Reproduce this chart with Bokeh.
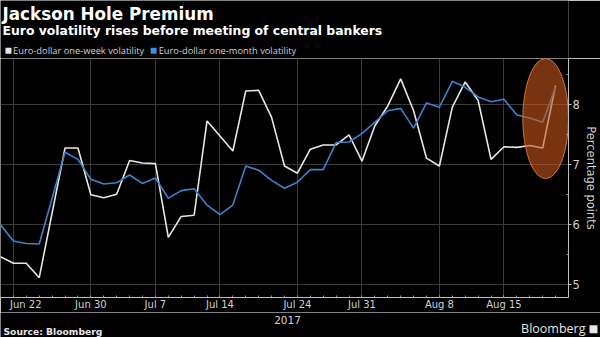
import numpy as np
from bokeh.plotting import figure
from bokeh.layouts import column
from bokeh.models import FixedTicker, Label, Range1d
from bokeh.embed import file_html
from bokeh.resources import INLINE

# ---- data ----
dates = ["2017-06-21", "2017-06-22", "2017-06-23", "2017-06-26", "2017-06-28",
         "2017-06-29", "2017-06-30", "2017-07-03", "2017-07-04", "2017-07-05",
         "2017-07-06", "2017-07-07", "2017-07-10", "2017-07-11", "2017-07-12",
         "2017-07-13", "2017-07-14", "2017-07-17", "2017-07-18", "2017-07-19",
         "2017-07-20", "2017-07-21", "2017-07-24", "2017-07-25", "2017-07-26",
         "2017-07-27", "2017-07-28", "2017-07-31", "2017-08-01", "2017-08-02",
         "2017-08-03", "2017-08-04", "2017-08-07", "2017-08-08", "2017-08-09",
         "2017-08-10", "2017-08-11", "2017-08-14", "2017-08-15", "2017-08-16",
         "2017-08-17", "2017-08-18", "2017-08-21"]
one_week = [5.47, 5.36, 5.36, 5.12, 7.28, 7.28, 6.50, 6.45, 6.51, 7.07,
            7.03, 7.02, 5.79, 6.14, 6.16, 7.73, 7.48, 7.23, 8.23, 8.24,
            7.79, 6.98, 6.86, 7.26, 7.33, 7.33, 7.50, 7.06, 7.65, 7.98,
            8.43, 7.90, 7.11, 6.98, 7.96, 8.38, 8.07, 7.09, 7.30, 7.29,
            7.32, 7.28, 8.32]
one_month = [6.00, 5.73, 5.69, 5.68, 7.21, 7.09, 6.76, 6.68, 6.70, 6.83,
             6.69, 6.78, 6.44, 6.57, 6.60, 6.33, 6.17, 6.33, 6.98, 6.91,
             6.74, 6.61, 6.71, 6.92, 6.92, 7.37, 7.38, 7.52, 7.71, 7.90,
             7.94, 7.61, 8.03, 7.96, 8.39, 8.29, 8.13, 8.05, 8.09, 7.83,
             7.78, 7.71, 8.30]
tick_dates = ["2017-06-22", "2017-06-30", "2017-07-07", "2017-07-14",
              "2017-07-24", "2017-07-31", "2017-08-08", "2017-08-15"]
tick_labels = ["Jun 22", "Jun 30", "Jul 7", "Jul 14", "Jul 24", "Jul 31",
               "Aug 8", "Aug 15"]
year_label = "2017"
y_ticks = [5, 6, 7, 8]
series_names = ["Euro-dollar one-week volatility",
                "Euro-dollar one-month volatility"]

WHITE = "#e6e6e6"
BLUE = "#3d82cc"
GREY = "#d0d0d0"
OPEN = "Open Sans"
DEJA = "DejaVu Sans"

# ---- business-day scale ----
d = np.array(dates, dtype="datetime64[D]")
start = d[0]
x = np.busday_count(start, d)
tx = [int(t) for t in np.busday_count(start, np.array(tick_dates, dtype="datetime64[D]"))]
all_days = list(range(0, int(x[-1]) + 1))

FRAME_W = 572  # header frame is aligned to the chart's frame


def blank(height, y0, y1, w):
    f = figure(width=600, height=height, x_range=Range1d(0, w),
               y_range=Range1d(y0, y1), output_backend="svg",
               toolbar_location=None, x_axis_type=None, y_axis_type=None,
               min_border=0, background_fill_color="black",
               border_fill_color="black", outline_line_color=None)
    f.xgrid.visible = False
    f.ygrid.visible = False
    return f


def lab(text, cx, base, size, color=GREY, bold=False, align="left", font=OPEN):
    # small correction so the drawn baseline lands on `base`
    k = 0.36 if font == OPEN else 0.30
    return Label(x=cx, y=base - k * size, text=text, text_font=font,
                 text_font_size=f"{size}px", text_color=color,
                 text_font_style="bold" if bold else "normal",
                 text_align=align, text_baseline="alphabetic")


# ---- header ----
head = blank(58, 58, 0, FRAME_W)
head.add_layout(lab("Jackson Hole Premium", 2, 18.5, 16.8, color="white",
                    bold=True, font=DEJA))
head.add_layout(lab("Euro volatility rises before meeting of central bankers",
                    2, 33.5, 12.4, color="white", bold=True, font=DEJA))
head.rect(x=[8, 154.2], y=[50.3, 50.3], width=6, height=6,
          fill_color=[WHITE, "#3a8ee6"], line_color=None)
head.add_layout(lab(series_names[0], 12.7, 53.6, 9.3))
head.add_layout(lab(series_names[1], 159.3, 53.6, 9.3))

# ---- main chart ----
p = figure(width=600, height=254, x_range=Range1d(0, 44),
           y_range=Range1d(4.79, 8.77), output_backend="svg",
           toolbar_location=None, y_axis_location="right",
           min_border_left=0, min_border_right=28, min_border_top=0,
           min_border_bottom=15, background_fill_color="black",
           border_fill_color="black", outline_line_color=None)

p.xgrid.ticker = FixedTicker(ticks=tx)
p.ygrid.ticker = FixedTicker(ticks=y_ticks)
for g in (p.xgrid, p.ygrid):
    g.grid_line_color = "#3a3a3a"
    g.grid_line_width = 1

xa = p.xaxis[0]
xa.ticker = FixedTicker(ticks=tx, minor_ticks=all_days)
overrides = {t: l for t, l in zip(tx, tick_labels)}
overrides[tx[0]] = "\u00a0" * 3 + tick_labels[0]
xa.major_label_overrides = overrides
xa.major_label_text_font = DEJA
xa.major_label_text_font_size = "10px"
xa.major_label_text_color = GREY
xa.major_label_standoff = 1
xa.axis_line_color = "#bdbdbd"
xa.major_tick_line_color = "#9a9a9a"
xa.minor_tick_line_color = "#9a9a9a"
xa.major_tick_out = 0
xa.major_tick_in = 2
xa.minor_tick_out = 0
xa.minor_tick_in = 2

ya = p.yaxis[0]
ya.ticker = FixedTicker(ticks=y_ticks, minor_ticks=[4.5, 5.5, 6.5, 7.5, 8.5])
ya.major_label_text_font = DEJA
ya.major_label_text_font_size = "11.5px"
ya.major_label_text_color = GREY
ya.major_label_standoff = 1
ya.axis_line_color = "#bdbdbd"
ya.major_tick_line_color = "#bdbdbd"
ya.minor_tick_line_color = "#9a9a9a"
ya.major_tick_out = 3
ya.major_tick_in = 0
ya.minor_tick_out = 0
ya.minor_tick_in = 2
ya.axis_label = "Percentage points"
ya.axis_label_text_font = DEJA
ya.axis_label_text_font_style = "normal"
ya.axis_label_text_font_size = "11.5px"
ya.axis_label_text_color = GREY
ya.axis_label_standoff = 1

p.line(x, one_week, line_color=WHITE, line_width=1.6)
p.line(x, one_month, line_color=BLUE, line_width=1.6)

# highlight ellipse around the last days
p.ellipse(x=[42.23], y=[7.77], width=3.54, height=2.0,
          fill_color="#c8561a", fill_alpha=0.6,
          line_color="#e27a36", line_alpha=0.9, line_width=1)

# ---- footer (outside the aligned column, full 600 px frame) ----
foot = blank(25, 337, 312, 600)
foot.add_layout(lab(year_label, 287, 323, 10.5, align="center", font=DEJA))
foot.add_layout(lab("Source: Bloomberg", 3, 334, 9.2, color=WHITE, bold=True, font=DEJA))
foot.add_layout(lab("Bloomberg", 585, 332.5, 12.5, color=WHITE, align="right"))
foot.rect(x=[593], y=[328.8], width=8, height=8, fill_color=WHITE, line_color=None)

layout = column(column(head, p, spacing=0), foot, spacing=0)
open("out.html", "w").write(file_html(layout, INLINE))
